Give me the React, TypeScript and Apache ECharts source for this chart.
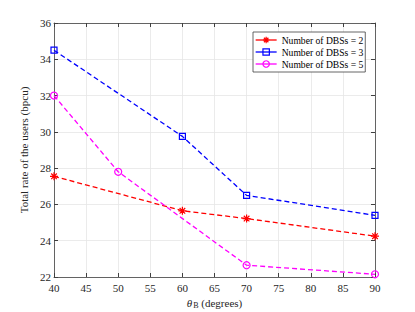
import React, { useEffect, useRef } from "react";
import * as echarts from "echarts";

const seriesNames = ["Number of DBSs = 2", "Number of DBSs = 3", "Number of DBSs = 5"];
const dbs2X = [40, 60, 70, 90];
const dbs2Y = [27.55, 25.65, 25.22, 24.25];
const dbs3X = [40, 60, 70, 90];
const dbs3Y = [34.5, 29.75, 26.5, 25.4];
const dbs5X = [40, 50, 70, 90];
const dbs5Y = [32.0, 27.8, 22.65, 22.15];

const FONT = "'Liberation Serif', 'Times New Roman', serif";
const AXIS_COLOR = "#404040";
const TXT = "#262626";
const ASTERISK = "path://M0,-10L0,10M-10,0L10,0M-7,-7L7,7M-7,7L7,-7";

export default function App() {
  const ref = useRef<HTMLDivElement>(null);
  useEffect(() => {
    if (!ref.current) return;
    const chart = echarts.init(ref.current, undefined, { renderer: "svg" });
    const zip = (xs: number[], ys: number[]) => xs.map((x, i) => [x, ys[i]]);
    const mk = (name: string, data: number[][], color: string, symbol: string, size: number) => ({
      name,
      type: "line",
      data,
      symbol,
      symbolSize: size,
      showSymbol: true,
      color,
      lineStyle: { color, width: 1.3, type: [5, 3] },
      itemStyle: { color: "transparent", borderColor: color, borderWidth: 1.2 },
      z: 3,
    });
    const axisCommon = {
      axisLine: { show: true, lineStyle: { color: AXIS_COLOR, width: 0.8 } },
      axisTick: { show: true, inside: true, length: 4, lineStyle: { color: AXIS_COLOR } },
    };
    chart.setOption({
      animation: false,
      backgroundColor: "#fff",
      textStyle: { fontFamily: FONT },
      grid: { left: 54, right: 40, top: 23, bottom: 35, containLabel: false, outerBoundsMode: "none" },
      legend: {
        show: true,
        left: 253,
        top: 32,
        orient: "vertical",
        data: seriesNames,
        itemWidth: 21,
        itemHeight: 8,
        itemGap: 2,
        padding: [3, 2, 3, 2],
        backgroundColor: "#fff",
        borderColor: AXIS_COLOR,
        borderWidth: 0.8,
        borderRadius: 0,
        itemStyle: { color: "transparent", borderWidth: 1.2 },
        lineStyle: { width: 1.3, type: "solid" },
        textStyle: { fontFamily: FONT, fontSize: 9.6, color: "#000" },
      },
      xAxis: [
        {
          type: "value",
          min: 40,
          max: 90,
          interval: 5,
          name: "{i|θ}{s|B}{n| (degrees)}",
          nameLocation: "middle",
          nameGap: 18,
          nameTextStyle: {
            rich: {
              i: { fontFamily: FONT, fontSize: 11, fontStyle: "italic", color: TXT },
              s: { fontFamily: FONT, fontSize: 8, color: TXT, padding: [5, 0, 0, 1] },
              n: { fontFamily: FONT, fontSize: 11, color: TXT },
            },
          },
          ...axisCommon,
          axisLabel: { fontFamily: FONT, fontSize: 11, color: TXT, margin: 5 },
          splitLine: { show: true, lineStyle: { color: "#e6e6e6", width: 0.8 } },
        },
        {
          type: "value",
          position: "top",
          min: 40,
          max: 90,
          interval: 5,
          ...axisCommon,
          axisLabel: { show: false },
          splitLine: { show: false },
        },
      ],
      yAxis: [
        {
          type: "value",
          min: 22,
          max: 36,
          interval: 2,
          name: "Total rate of the users (bpcu)",
          nameLocation: "middle",
          nameGap: 18,
          nameTextStyle: { fontFamily: FONT, fontSize: 11, color: TXT },
          ...axisCommon,
          axisLabel: { fontFamily: FONT, fontSize: 11, color: TXT, margin: 3 },
          splitLine: { show: true, lineStyle: { color: "#e6e6e6", width: 0.8 } },
        },
        {
          type: "value",
          position: "right",
          min: 22,
          max: 36,
          interval: 2,
          ...axisCommon,
          axisLabel: { show: false },
          splitLine: { show: false },
        },
      ],
      series: [
        mk(seriesNames[0], zip(dbs2X, dbs2Y), "#ff0000", ASTERISK, 8),
        mk(seriesNames[1], zip(dbs3X, dbs3Y), "#0000ff", "rect", 6),
        mk(seriesNames[2], zip(dbs5X, dbs5Y), "#ff00ff", "circle", 7),
      ],
    });
    return () => chart.dispose();
  }, []);
  return <div ref={ref} style={{ width: 415, height: 312, position: "absolute", left: 0, top: 0 }} />;
}
